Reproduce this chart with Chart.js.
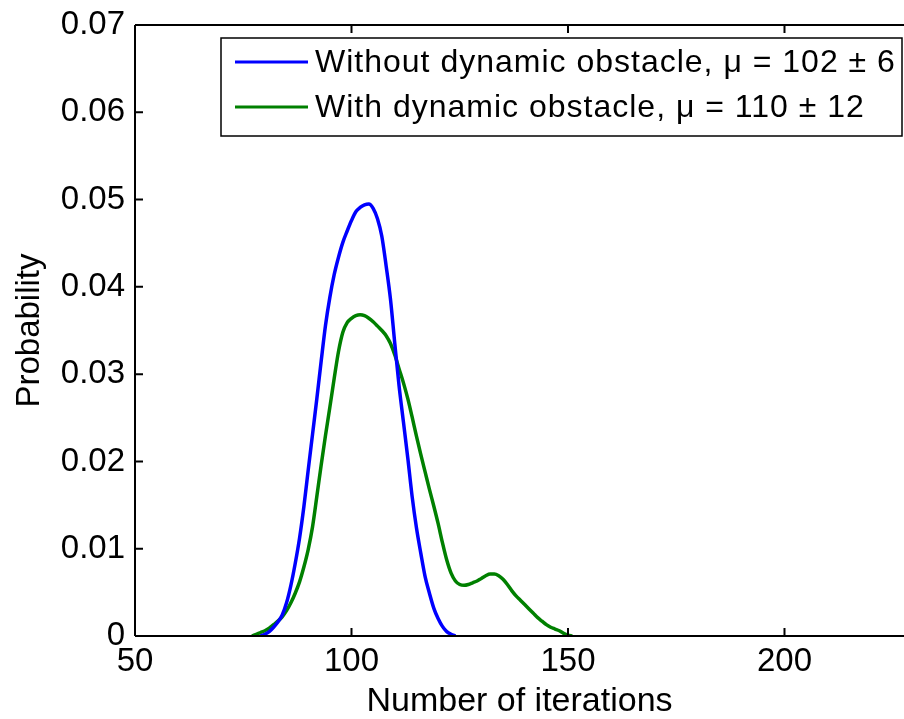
<!DOCTYPE html>
<html>
<head>
<meta charset="utf-8">
<script src="https://cdn.jsdelivr.net/npm/chart.js@4"></script>
<style>
  html, body { margin: 0; padding: 0; background: #fff; overflow: hidden; }
  #wrap { width: 904px; height: 719px; }
</style>
</head>
<body>
<div id="wrap"><canvas id="kde"></canvas></div>
<script>
// Without dynamic obstacle (blue), read at whole iteration counts 79..124
const blueX = [79, 80, 81, 82, 83, 84, 85, 86, 87, 88, 89, 90, 91, 92, 93, 94, 95, 96, 97, 98, 99, 100, 101,
               102, 103, 104, 105, 106, 107, 108, 109, 110, 111, 112, 113, 114, 115, 116, 117, 118, 119, 120, 121, 122, 123, 124];
const blueY = [0, 0.0002, 0.0005, 0.0010, 0.0016, 0.0024, 0.0038, 0.0058, 0.0083, 0.0112, 0.0148, 0.0190, 0.0231, 0.0272,
               0.0315, 0.0356, 0.0388, 0.0414, 0.0434, 0.0451, 0.0464, 0.0476, 0.0486, 0.0491, 0.0494, 0.0495, 0.0490,
               0.0478, 0.0458, 0.0424, 0.0386, 0.0335, 0.0286, 0.0245, 0.0204, 0.0160, 0.0124, 0.0095, 0.0068, 0.0049,
               0.0032, 0.0020, 0.0011, 0.0005, 0.0002, 0];

// With dynamic obstacle (green), read at whole iteration counts 77..151
const greenX = [77, 78, 79, 80, 81, 82, 83, 84, 85, 86, 87, 88, 89, 90, 91, 92, 93, 94, 95, 96, 97, 98, 99, 100, 101,
                102, 103, 104, 105, 106, 107, 108, 109, 110, 111, 112, 113, 114, 115, 116, 117, 118, 119, 120, 121, 122,
                123, 124, 125, 126, 127, 128, 129, 130, 131, 132, 133, 134, 135, 136, 137, 138, 139, 140, 141, 142, 143,
                144, 145, 146, 147, 148, 149, 150, 151];
const greenY = [0, 0.0002, 0.0004, 0.0006, 0.0009, 0.0013, 0.0017, 0.0022, 0.0029, 0.0038, 0.0049, 0.0062, 0.0079, 0.0099,
                0.0125, 0.0160, 0.0196, 0.0230, 0.0262, 0.0295, 0.0326, 0.0348, 0.0359, 0.0364, 0.0367, 0.0368, 0.0367,
                0.0364, 0.0360, 0.0355, 0.0350, 0.0344, 0.0335, 0.0322, 0.0306, 0.0290, 0.0272, 0.0251, 0.0229, 0.0208,
                0.0188, 0.0168, 0.0149, 0.0129, 0.0107, 0.0087, 0.0072, 0.0063, 0.0059, 0.0058, 0.0059, 0.0061, 0.0063,
                0.0066, 0.0069, 0.0071, 0.0071, 0.0069, 0.0065, 0.0059, 0.0052, 0.0046, 0.0041, 0.0036, 0.0031, 0.0026,
                0.0021, 0.0017, 0.0013, 0.0010, 0.0008, 0.0006, 0.0003, 0.0001, 0];

const seriesLabels = ['Without dynamic obstacle, \u03BC = 102 \u00B1 6', 'With dynamic obstacle, \u03BC = 110 \u00B1 12'];
const xTicks = [50, 100, 150, 200];
const yTicks = [0, 0.01, 0.02, 0.03, 0.04, 0.05, 0.06, 0.07];

const FONT = 'Liberation Sans, Arial, Helvetica, sans-serif';

function toPoints(xs, ys) {
    return xs.map((x, i) => ({ x: x, y: ys[i] }));
}

// axes box with inward ticks, matlab style
const boxPlugin = {
    id: 'box',
    afterDraw(chart) {
        const ctx = chart.ctx;
        const a = chart.chartArea;
        const xs = chart.scales.x, ys = chart.scales.y;
        ctx.save();
        ctx.strokeStyle = '#000';
        ctx.lineWidth = 2;
        ctx.beginPath();
        ctx.moveTo(a.left, a.top); ctx.lineTo(a.right + 2, a.top);
        ctx.moveTo(a.left, a.top); ctx.lineTo(a.left, a.bottom);
        ctx.moveTo(a.left, a.bottom); ctx.lineTo(a.right + 2, a.bottom);
        xTicks.forEach(v => {
            const px = xs.getPixelForValue(v);
            ctx.moveTo(px, a.bottom); ctx.lineTo(px, a.bottom - 8);
            ctx.moveTo(px, a.top); ctx.lineTo(px, a.top + 8);
        });
        yTicks.forEach(v => {
            const py = ys.getPixelForValue(v);
            ctx.moveTo(a.left, py); ctx.lineTo(a.left + 8, py);
        });
        ctx.stroke();
        ctx.restore();
    }
};

// legend box in the top right corner
const legendPlugin = {
    id: 'boxLegend',
    afterDraw(chart) {
        const ctx = chart.ctx;
        const x0 = 221, y0 = 38, x1 = 902, y1 = 136;
        ctx.save();
        ctx.fillStyle = '#fff';
        ctx.fillRect(x0, y0, x1 - x0, y1 - y0);
        ctx.strokeStyle = '#000';
        ctx.lineWidth = 1.5;
        ctx.strokeRect(x0, y0, x1 - x0, y1 - y0);
        const rows = [62, 107];
        chart.data.datasets.forEach((ds, i) => {
            ctx.strokeStyle = ds.borderColor;
            ctx.lineWidth = 3;
            ctx.beginPath();
            ctx.moveTo(235, rows[i]); ctx.lineTo(308, rows[i]);
            ctx.stroke();
            ctx.fillStyle = '#000';
            ctx.font = '32px ' + FONT;
            ctx.letterSpacing = '1px';
            ctx.textBaseline = 'middle';
            ctx.fillText(ds.label, 315, rows[i] + 1);
        });
        ctx.restore();
    }
};

new Chart(document.getElementById('kde'), {
    type: 'scatter',
    data: {
        datasets: [{
            label: seriesLabels[0],
            data: toPoints(blueX, blueY),
            showLine: true,
            borderColor: '#0000ff',
            borderWidth: 3.5,
            pointRadius: 0,
            cubicInterpolationMode: 'monotone'
        }, {
            label: seriesLabels[1],
            data: toPoints(greenX, greenY),
            showLine: true,
            borderColor: '#008000',
            borderWidth: 3.5,
            pointRadius: 0,
            cubicInterpolationMode: 'monotone'
        }]
    },
    options: {
        responsive: true,
        maintainAspectRatio: false,
        animation: false,
        layout: { padding: { top: 25, left: 0, right: 0, bottom: 0 } },
        plugins: {
            legend: { display: false },
            tooltip: { enabled: false }
        },
        scales: {
            x: {
                type: 'linear',
                min: 50,
                max: 227.6,
                afterBuildTicks: s => { s.ticks = xTicks.map(v => ({ value: v })); },
                afterFit: s => { s.height = 83; s.paddingLeft = 0; s.paddingRight = 0; },
                grid: { display: false, drawTicks: false },
                border: { display: false },
                ticks: { color: '#000', padding: 6, font: { family: FONT, size: 33 } },
                title: {
                    display: true,
                    text: 'Number of iterations',
                    color: '#000',
                    font: { family: FONT, size: 34, lineHeight: 1.0 },
                    padding: 0
                }
            },
            y: {
                min: 0,
                max: 0.07,
                afterBuildTicks: s => { s.ticks = yTicks.map(v => ({ value: v })); },
                afterFit: s => { s.width = 135; s.paddingTop = 0; s.paddingBottom = 0; },
                grid: { display: false, drawTicks: false },
                border: { display: false },
                ticks: {
                    color: '#000', padding: 10, font: { family: FONT, size: 33 },
                    callback: v => v === 0 ? '0' : v.toFixed(2)
                },
                title: {
                    display: true,
                    text: 'Probability',
                    color: '#000',
                    font: { family: FONT, size: 33, lineHeight: 1.0 },
                    padding: { top: 13, bottom: 0 }
                }
            }
        }
    },
    plugins: [boxPlugin, legendPlugin]
});
</script>
</body>
</html>
